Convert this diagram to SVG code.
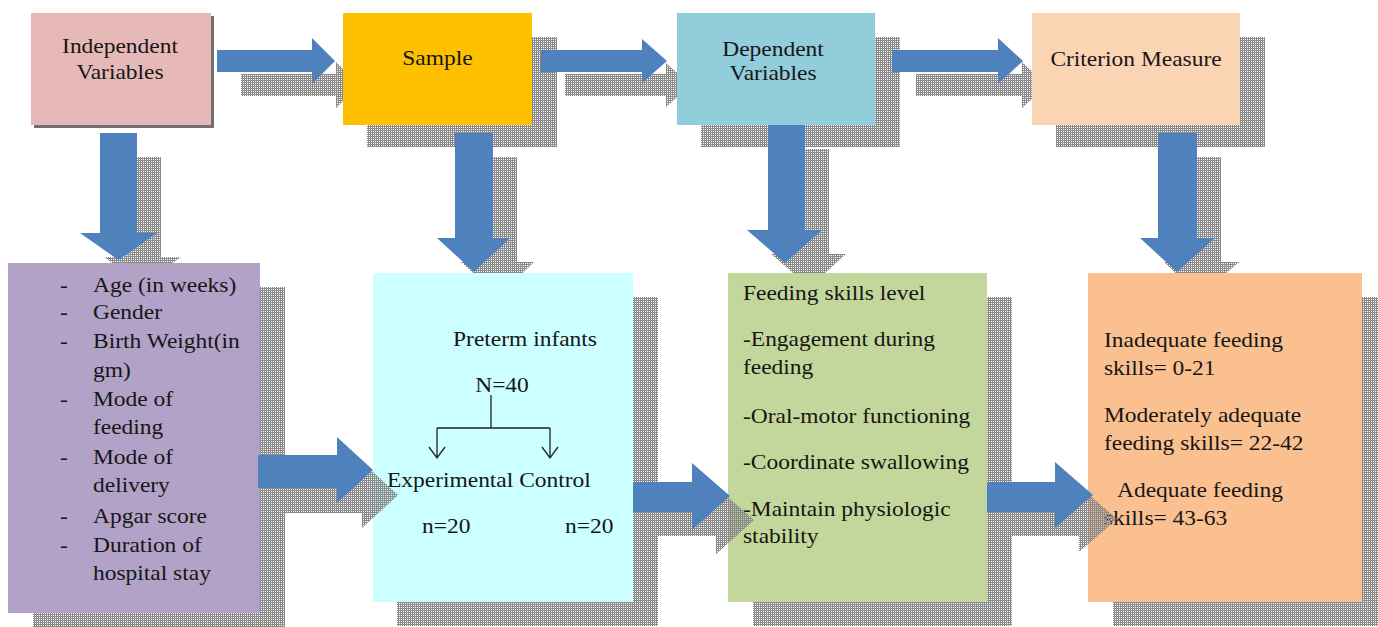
<svg xmlns="http://www.w3.org/2000/svg" width="1378" height="627" viewBox="0 0 1378 627">
<defs>
<pattern id="grid" width="2" height="2" patternUnits="userSpaceOnUse"><path d="M0 0.5H2M0.5 0V2" stroke="#8a8a8a" stroke-width="1" fill="none"/></pattern>
<style>
.t{font-family:"Liberation Serif","Times New Roman",serif;font-size:20.4px;fill:#161616}
.m{text-anchor:middle}
.sh{fill:url(#grid)}
.ar{fill:#4F81BD}
.ln{stroke:#222;stroke-width:1.3;fill:none}
</style>
</defs>
<rect width="1378" height="627" fill="#ffffff"/>

<g id="node-independent">
<rect x="34" y="16" width="180" height="112" fill="#707070"/>
<rect x="31" y="13" width="180" height="112" fill="#E6B9B8"/>
<text class="t m" transform="translate(120 53) scale(1.15 1)">Independent</text>
<text class="t m" transform="translate(120 79) scale(1.15 1)">Variables</text>
</g>

<g id="node-sample">
<rect class="sh" x="367" y="37" width="190" height="110"/>
<rect x="343" y="13" width="189" height="112" fill="#FFC000"/>
<text class="t m" transform="translate(437.5 65) scale(1.15 1)">Sample</text>
</g>

<g id="node-dependent">
<rect class="sh" x="701" y="37" width="199" height="110"/>
<rect x="677" y="13" width="198" height="112" fill="#92CDDC"/>
<text class="t m" transform="translate(773 56) scale(1.15 1)">Dependent</text>
<text class="t m" transform="translate(773 80) scale(1.15 1)">Variables</text>
</g>

<g id="node-criterion">
<rect class="sh" x="1056" y="37" width="209" height="110"/>
<rect x="1032" y="13" width="208" height="112" fill="#FBD4B4"/>
<text class="t m" transform="translate(1136 66) scale(1.15 1)">Criterion Measure</text>
</g>

<g id="connectors-under">
<polygon class="sh" points="241,74 336,74 336,62 343,69 343,101 336,108 336,96 241,96"/>
<polygon class="sh" points="565,74 666,74 666,63 677,72.7 677,97.3 666,107 666,96 565,96"/>
<polygon class="sh" points="916,74 1022,74 1022,62 1032,71.2 1032,98.8 1022,108 1022,96 916,96"/>
<polygon class="sh" points="124,157 161,157 161,257 181,257 172.4,263 112.6,263 104,257 124,257"/>
<polygon class="sh" points="479,157 517,157 517,262 534,262 522.7,273 473.3,273 461,262 479,262"/>
<polygon class="sh" points="792,149 829,149 829,254 846,254 824.9,273 793.1,273 771,254 792,254"/>
<polygon class="sh" points="1182,157 1221,157 1221,262 1239,262 1226.4,273 1175.6,273 1164,262 1182,262"/>
<polygon class="ar" points="217,50 312,50 312,38 335,61 312,84 312,72 217,72"/>
<polygon class="ar" points="541,50 642,50 642,39 667,61 642,83 642,72 541,72"/>
<polygon class="ar" points="892,50 998,50 998,38 1023,61 998,84 998,72 892,72"/>
<polygon class="ar" points="100,133 137,133 137,233 157,233 118.5,260 80,233 100,233"/>
<polygon class="ar" points="455,133 493,133 493,238 510,238 474,272 437,238 455,238"/>
<polygon class="ar" points="768,125 805,125 805,230 822,230 785,263 747,230 768,230"/>
<polygon class="ar" points="1158,133 1197,133 1197,238 1215,238 1177,272 1140,238 1158,238"/>
</g>

<g id="node-factors">
<rect class="sh" x="33" y="287" width="252" height="350"/>
<rect x="8" y="263" width="252" height="350" fill="#B2A2C7"/>
<g class="t">
<text transform="translate(60 292) scale(1.15 1)">-</text>
<text transform="translate(60 319) scale(1.15 1)">-</text>
<text transform="translate(60 348) scale(1.15 1)">-</text>
<text transform="translate(60 406) scale(1.15 1)">-</text>
<text transform="translate(60 464) scale(1.15 1)">-</text>
<text transform="translate(60 523) scale(1.15 1)">-</text>
<text transform="translate(60 552) scale(1.15 1)">-</text>
</g>
<text class="t" transform="translate(93 292) scale(1.15 1)">Age (in weeks)</text>
<text class="t" transform="translate(93 319) scale(1.15 1)">Gender</text>
<text class="t" transform="translate(93 348) scale(1.15 1)">Birth Weight(in</text>
<text class="t" transform="translate(93 377) scale(1.15 1)">gm)</text>
<text class="t" transform="translate(93 406) scale(1.15 1)">Mode of</text>
<text class="t" transform="translate(93 434) scale(1.15 1)">feeding</text>
<text class="t" transform="translate(93 464) scale(1.15 1)">Mode of</text>
<text class="t" transform="translate(93 492) scale(1.15 1)">delivery</text>
<text class="t" transform="translate(93 523) scale(1.15 1)">Apgar score</text>
<text class="t" transform="translate(93 552) scale(1.15 1)">Duration of</text>
<text class="t" transform="translate(93 580) scale(1.15 1)">hospital stay</text>
</g>

<g id="node-preterm">
<rect class="sh" x="397" y="297" width="261" height="329"/>
<rect x="373" y="273" width="260" height="329" fill="#CCFFFF"/>
<text class="t m" transform="translate(525 346) scale(1.15 1)">Preterm infants</text>
<text class="t m" transform="translate(502 392) scale(1.15 1)">N=40</text>
<path class="ln" d="M491 395V428M437 428H550M437 428V458M550 428V458M429 447L437 458L445 447M542 447L550 458L558 447"/>
<text class="t" transform="translate(387 487) scale(1.15 1)">Experimental Control</text>
<text class="t" transform="translate(422 533) scale(1.15 1)">n=20</text>
<text class="t" transform="translate(565 533) scale(1.15 1)">n=20</text>
</g>

<g id="node-feeding">
<rect class="sh" x="753" y="297" width="259" height="329"/>
<rect x="728" y="273" width="259" height="329" fill="#C3D69B"/>
<text class="t" transform="translate(743 300) scale(1.15 1)">Feeding skills level</text>
<text class="t" transform="translate(743 346) scale(1.15 1)">-Engagement during</text>
<text class="t" transform="translate(743 374) scale(1.15 1)">feeding</text>
<text class="t" transform="translate(743 423) scale(1.15 1)">-Oral-motor functioning</text>
<text class="t" transform="translate(743 469) scale(1.15 1)">-Coordinate swallowing</text>
<text class="t" transform="translate(743 516) scale(1.15 1)">-Maintain physiologic</text>
<text class="t" transform="translate(743 543) scale(1.15 1)">stability</text>
</g>

<g id="node-levels">
<rect class="sh" x="1113" y="297" width="265" height="329"/>
<rect x="1088" y="273" width="274" height="329" fill="#FAC090"/>
<text class="t" transform="translate(1104 347) scale(1.15 1)">Inadequate feeding</text>
<text class="t" transform="translate(1104 375) scale(1.15 1)">skills= 0-21</text>
<text class="t" transform="translate(1104 422) scale(1.15 1)">Moderately adequate</text>
<text class="t" transform="translate(1104 450) scale(1.15 1)">feeding skills= 22-42</text>
<text class="t" transform="translate(1117 497) scale(1.15 1)">Adequate feeding</text>
<text class="t" transform="translate(1104 525) scale(1.15 1)">skills= 43-63</text>
</g>

<g id="connectors">
<polygon class="sh" points="283,480 362,480 362,462 398,495 362,528 362,513 283,513"/>
<polygon class="sh" points="657,506 716,506 716,487 754,520 716,554 716,536 657,536"/>
<polygon class="sh" points="1011,506 1079,506 1079,486 1117,519 1079,552 1079,536 1011,536"/>
<polygon class="ar" points="258,455 337,455 337,437 373,470 337,503 337,488 258,488"/>
<polygon class="ar" points="633,482 692,482 692,463 730,496 692,530 692,512 633,512"/>
<polygon class="ar" points="987,482 1055,482 1055,462 1093,495 1055,528 1055,512 987,512"/>
</g>
</svg>
